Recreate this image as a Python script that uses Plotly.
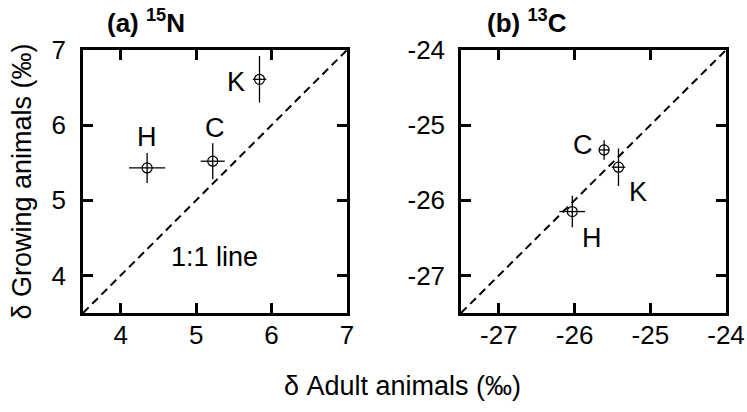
import plotly.graph_objects as go

# Stable-isotope values: adult vs growing animals, per group
groups = ["H", "C", "K"]

n15_adult = [4.35, 5.22, 5.84]
n15_adult_err = [0.24, 0.16, 0.09]
n15_growing = [5.43, 5.52, 6.61]
n15_growing_err = [0.20, 0.24, 0.31]

c13_adult = [-26.03, -25.61, -25.42]
c13_adult_err = [0.17, 0.07, 0.09]
c13_growing = [-26.15, -25.33, -25.56]
c13_growing_err = [0.21, 0.13, 0.25]

n15_range = [3.5, 7]
c13_range = [-27.5, -24]
n15_ticks = [4, 5, 6, 7]
c13_ticks = [-27, -26, -25, -24]
c13_ticktext = ["-27", "-26", "-25", "-24"]

FONT = "Liberation Sans, Arial, sans-serif"

# Plot-area geometry in pixels
W, H = 747, 412
ML, MR, MT, MB = 83, 21, 50, 99
PW, PH = W - ML - MR, H - MT - MB


def px_x(px):
    return (px - ML) / PW


def px_y(py):
    return (H - MB - py) / PH


fig = go.Figure()

# 1:1 reference lines
dash_line = dict(color="black", width=2, dash="8px,5px")
fig.add_trace(go.Scatter(x=n15_range, y=n15_range, mode="lines", line=dash_line,
                         xaxis="x", yaxis="y", hoverinfo="skip"))
fig.add_trace(go.Scatter(x=c13_range, y=c13_range, mode="lines", line=dash_line,
                         xaxis="x2", yaxis="y2", hoverinfo="skip"))

marker = dict(symbol="circle-open", size=10, color="black", line=dict(width=1.2, color="black"))
err = dict(type="data", color="black", thickness=1.3, width=0)

fig.add_trace(go.Scatter(
    x=n15_adult, y=n15_growing, mode="markers", marker=marker,
    error_x=dict(array=n15_adult_err, **err),
    error_y=dict(array=n15_growing_err, **err),
    xaxis="x", yaxis="y"))
fig.add_trace(go.Scatter(
    x=c13_adult, y=c13_growing, mode="markers", marker=marker,
    error_x=dict(array=c13_adult_err, **err),
    error_y=dict(array=c13_growing_err, **err),
    xaxis="x2", yaxis="y2"))

axis_common = dict(
    showgrid=False, zeroline=False, showline=True, mirror="ticks",
    linecolor="black", linewidth=2.5, ticks="inside", ticklen=10,
    tickwidth=2.5, tickcolor="black", automargin=False,
    tickfont=dict(family=FONT, size=26, color="black"),
)

fig.update_layout(
    width=W, height=H,
    margin=dict(l=ML, r=MR, t=MT, b=MB),
    paper_bgcolor="white", plot_bgcolor="white",
    showlegend=False,
    xaxis=dict(domain=[0, px_x(347)], range=n15_range, tickvals=n15_ticks,
               anchor="y", ticklabelstandoff=-3, **axis_common),
    yaxis=dict(domain=[0, 1], range=n15_range, tickvals=n15_ticks,
               anchor="x", ticklabelstandoff=9, **axis_common),
    xaxis2=dict(domain=[px_x(461), 1], range=c13_range, tickvals=c13_ticks,
                ticktext=c13_ticktext, anchor="y2", ticklabelstandoff=-3, **axis_common),
    yaxis2=dict(domain=[0, 1], range=c13_range, tickvals=c13_ticks,
                ticktext=c13_ticktext, anchor="x2", ticklabelstandoff=8, **axis_common),
)

lab_font = dict(family=FONT, size=27, color="black")

# Group labels, panel (a)
n15_label_pos = {"H": (4.35, 5.84), "C": (5.25, 5.96), "K": (5.53, 6.57)}
for g in groups:
    x, y = n15_label_pos[g]
    fig.add_annotation(x=x, y=y, xref="x", yref="y", text=g, showarrow=False, font=lab_font)

# Group labels, panel (b)
c13_label_pos = {"C": (-25.89, -25.26), "K": (-25.16, -25.89), "H": (-25.77, -26.5)}
for g in groups:
    x, y = c13_label_pos[g]
    fig.add_annotation(x=x, y=y, xref="x2", yref="y2", text=g, showarrow=False, font=lab_font)

fig.add_annotation(x=5.24, y=4.25, xref="x", yref="y", text="1:1 line",
                   showarrow=False, font=lab_font)

# Panel titles
title_font = dict(family=FONT, size=26, color="black")
fig.add_annotation(x=px_x(105), y=px_y(21), xref="paper", yref="paper",
                   text="<b>(a) <sup>15</sup>N</b>", showarrow=False, font=title_font,
                   xanchor="left", yanchor="middle")
fig.add_annotation(x=px_x(485), y=px_y(21), xref="paper", yref="paper",
                   text="<b>(b) <sup>13</sup>C</b>", showarrow=False, font=title_font,
                   xanchor="left", yanchor="middle")

# Shared axis titles
fig.add_annotation(x=px_x(402), y=px_y(386), xref="paper", yref="paper",
                   text="δ Adult animals (‰)", showarrow=False, font=lab_font,
                   xanchor="center", yanchor="middle")
fig.add_annotation(x=px_x(21), y=0.5, xref="paper", yref="paper",
                   text="δ Growing animals (‰)", showarrow=False, font=lab_font,
                   textangle=-90, xanchor="center", yanchor="middle")

fig.write_html("out.html")
